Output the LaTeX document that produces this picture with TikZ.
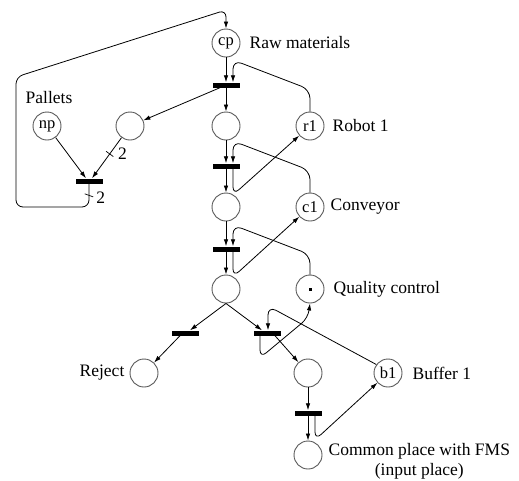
\documentclass[tikz,border=0pt]{standalone}
\usepackage{fontspec}
\setmainfont{Liberation Serif}
\usetikzlibrary{positioning, arrows.meta}
\tikzset{>={Latex[length=7pt,width=4.5pt]}, % small filled heads
place/.style={circle, draw=black!65, line width=0.9pt, minimum size=28pt, inner sep=0pt, font=\fontsize{16.5}{16.5}\selectfont}, % places of the net
trans/.style={rectangle, fill=black, minimum width=27pt, minimum height=5pt, inner sep=0pt}, % transitions as bars
arc/.style={->, line width=0.8pt},
lbl/.style={font=\fontsize{17.5}{20}\selectfont, inner sep=2pt},
tick/.style={sloped, sharp corners, draw, line width=0.7pt, minimum width=0pt, minimum height=9pt, inner sep=0pt}, % weight mark on an arc
token/.style={rectangle, fill=black, inner sep=0pt, minimum size=3pt},
}

\begin{document}
\begin{tikzpicture}[x=1pt, y=-1pt]
    \useasboundingbox (0,0) rectangle (519,480);
    % places
    \node[place] (cp) at (226,43) {cp};
    \node[place] (np) at (47,126) {np};
    \node[place] (pA) at (130,126) {};
    \node[place] (pB) at (226,126) {};
    \node[place] (r1) at (310,126) {r1};
    \node[place] (pC) at (226,207) {};
    \node[place] (c1) at (310,207) {c1};
    \node[place] (pD) at (226,289) {};
    \node[place] (qc) at (310,289) {};
    \node[token] at (qc) {};
    \node[place] (rej) at (144,373) {};
    \node[place] (pE) at (308,373) {};
    \node[place] (b1) at (388,373) {b1};
    \node[place] (pF) at (308,455) {};
    % transitions
    \node[trans] (t0) at (226,85) {};
    \node[trans] (tpal) at (89,181) {};
    \node[trans] (t1) at (226,166) {};
    \node[trans] (t2) at (226,249) {};
    \node[trans] (trej) at (185,333) {};
    \node[trans] (tqc) at (267,333) {};
    \node[trans] (t3) at (308,413) {};
    % labels
    \node[lbl, right=7pt of cp] {Raw materials};
    \node[lbl, above=6pt of np, xshift=2pt] {Pallets};
    \node[lbl, right=6pt of r1] {Robot 1};
    \node[lbl, right=4pt of c1] {Conveyor};
    \node[lbl, right=7pt of qc] {Quality control};
    \node[lbl, left=3pt of rej] {Reject};
    \node[lbl, right=8pt of b1] {Buffer 1};
    \node[lbl, align=center, right=4pt of pF, yshift=-6pt] {Common place with FMS\\(input place)};
    % arcs
    \draw[arc] (cp) -- (t0);
    \draw[arc, rounded corners=9pt] (r1.north) -- ++(0,-22) -- (233,60) -- ([xshift=7pt]t0.north);
    \draw[arc] ([xshift=-6pt]t0.south) -- (pA);
    \draw[arc] (t0) -- (pB);
    \draw[arc] (np) -- ([xshift=-3pt]tpal.north);
    \draw[arc] (pA) -- node[tick, pos=0.4] {} node[lbl, pos=0.4, right=6pt] {2} ([xshift=3pt]tpal.north);
    \draw[arc, rounded corners=7pt] (tpal.south) -- node[tick, pos=0.5, rotate=-20] {} node[lbl, pos=0.6, right=5pt] {2} (89,207) -- (16,207) -- (16,77) -- (226,10) -- (cp.north);
    \draw[arc] (pB) -- (t1);
    \draw[arc, rounded corners=9pt] (c1.north) -- ++(0,-22) -- (233,141) -- ([xshift=7pt]t1.north);
    \draw[arc, rounded corners=8pt] ([xshift=7pt]t1.south) -- (233,195) -- (r1);
    \draw[arc] (t1) -- (pC);
    \draw[arc] (pC) -- (t2);
    \draw[arc, rounded corners=9pt] (qc.north) -- ++(0,-20) -- (233,225) -- ([xshift=7pt]t2.north);
    \draw[arc, rounded corners=8pt] ([xshift=7pt]t2.south) -- (233,277) -- (c1);
    \draw[arc] (t2) -- (pD);
    \draw[arc] (pD.south) -- ([xshift=5pt]trej.north);
    \draw[arc] ([xshift=-5pt]trej.south) -- (rej);
    \draw[arc] (pD.south) -- ([xshift=-5pt]tqc.north);
    \draw[arc, rounded corners=9pt] (b1.144) -- (268,306) -- ([xshift=1pt]tqc.north);
    \draw[arc, rounded corners=8pt] ([xshift=-7pt]tqc.south) -- (260,358) -- (308,318) -- (qc.south);
    \draw[arc] ([xshift=8pt]tqc.south) -- (pE);
    \draw[arc] (pE) -- (t3);
    \draw[arc, rounded corners=8pt] ([xshift=7pt]t3.south) -- (315,440) -- (b1);
    \draw[arc] (t3) -- (pF);
\end{tikzpicture}
\end{document}
